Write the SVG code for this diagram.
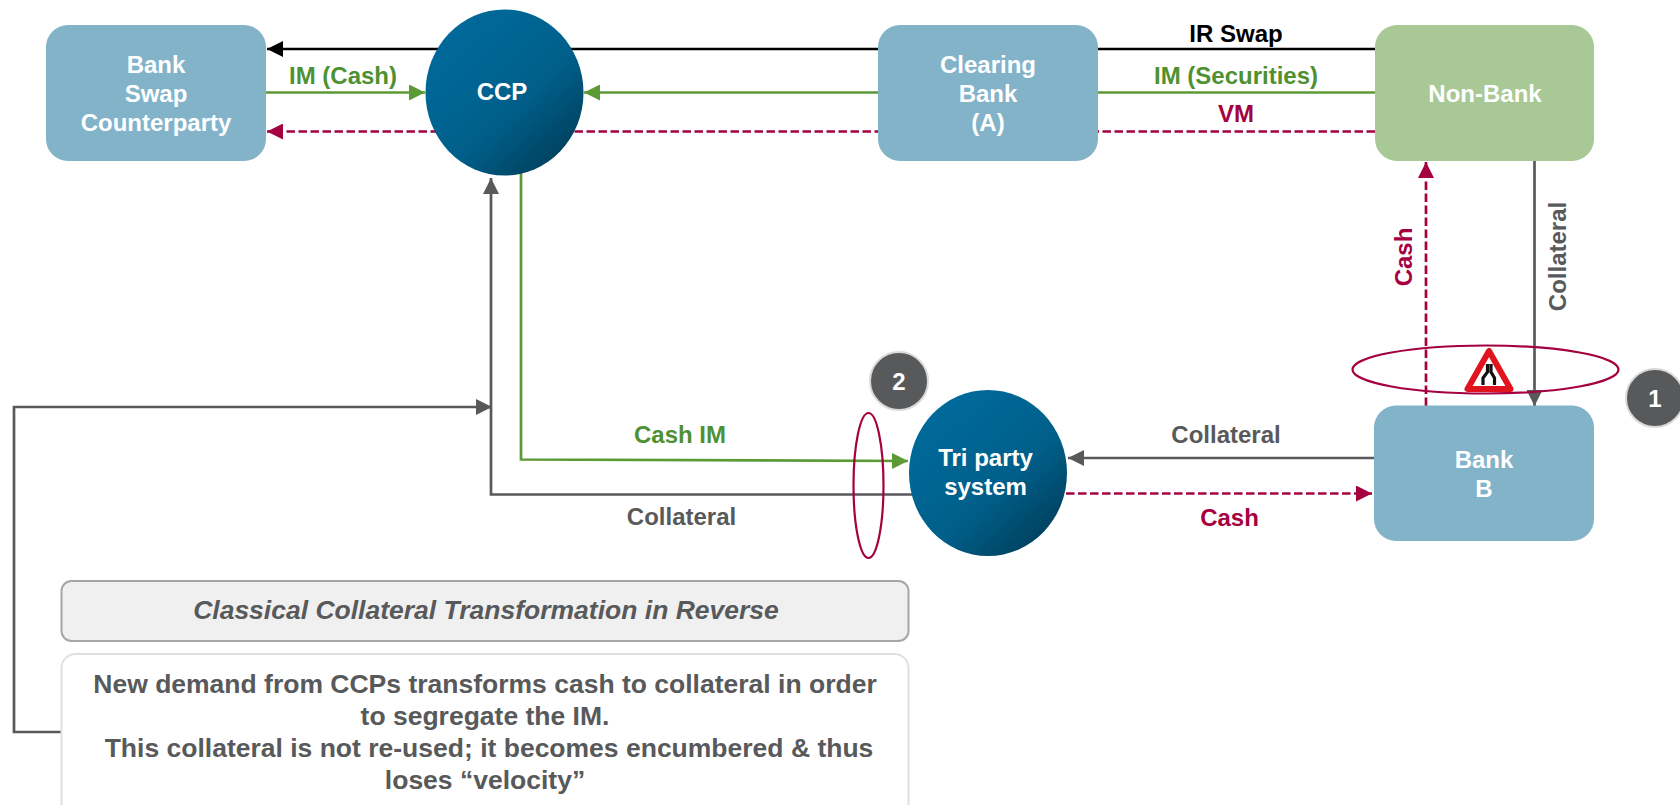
<svg xmlns="http://www.w3.org/2000/svg" width="1680" height="805" viewBox="0 0 1680 805">
<style>
text{font-family:"Liberation Sans",Arial,sans-serif;font-weight:700;font-size:24px;text-anchor:middle}
.w{fill:#fff}.g{fill:#4f9132}.r{fill:#a50040}.d{fill:#58595b}.k{fill:#000}
.box{fill:#82b3c9}
.l{fill:none;stroke-width:2.700}
.lg{stroke:#5b9a35}.lr{stroke:#a50040;stroke-dasharray:8.500 3.500}.ld{stroke:#58595b}.lk{stroke:#000}
.ring{fill:none;stroke:#a50040;stroke-width:2.200}
.badge{fill:#58595b;stroke:#d9d9d9;stroke-width:2}
.big{font-size:26.500px}
</style>
<defs>
<linearGradient id="ball" x1="0.15" y1="0.1" x2="0.85" y2="0.9"><stop offset="0" stop-color="#006a9b"/><stop offset="0.6" stop-color="#005f8a"/><stop offset="1" stop-color="#00415f"/></linearGradient>
<marker id="ak" markerUnits="userSpaceOnUse" markerWidth="18" markerHeight="16" refX="16" refY="8" orient="auto"><path d="M0 0L16 8L0 16Z" fill="#000"/></marker>
<marker id="ag" markerUnits="userSpaceOnUse" markerWidth="18" markerHeight="16" refX="16" refY="8" orient="auto"><path d="M0 0L16 8L0 16Z" fill="#5b9a35"/></marker>
<marker id="ar" markerUnits="userSpaceOnUse" markerWidth="18" markerHeight="16" refX="16" refY="8" orient="auto"><path d="M0 0L16 8L0 16Z" fill="#a50040"/></marker>
<marker id="ad" markerUnits="userSpaceOnUse" markerWidth="18" markerHeight="16" refX="16" refY="8" orient="auto"><path d="M0 0L16 8L0 16Z" fill="#58595b"/></marker>
</defs>
<g id="connectors">
<path class="l lk" d="M1375 49H267" marker-end="url(#ak)"/>
<path class="l lg" d="M266 92.500H425" marker-end="url(#ag)"/>
<path class="l lg" d="M1375 92.500H584" marker-end="url(#ag)"/>
<path class="l lr" d="M1375 131.500H267" marker-end="url(#ar)"/>
<path class="l lg" d="M521 172V459.500L908 461" marker-end="url(#ag)"/>
<path class="l ld" d="M925 494.500H491V178" marker-end="url(#ad)"/>
<path class="l ld" d="M62 732H14V407H492" marker-end="url(#ad)"/>
<path class="l ld" d="M1374 458H1068" marker-end="url(#ad)"/>
<path class="l lr" d="M1066 493.500H1372" marker-end="url(#ar)"/>
<path class="l lr" d="M1426 406V162" marker-end="url(#ar)"/>
<path class="l ld" d="M1534.500 161V406" marker-end="url(#ad)"/>
</g>
<g id="bank-swap"><rect class="box" x="46" y="25" width="220" height="136" rx="22"/><text class="w" x="156" y="73">Bank</text><text class="w" x="156" y="102">Swap</text><text class="w" x="156" y="131">Counterparty</text></g>
<g id="ccp"><ellipse cx="504.500" cy="92.500" rx="79" ry="83" fill="url(#ball)"/><text class="w" x="502" y="100">CCP</text></g>
<g id="clearing-bank"><rect class="box" x="878" y="25" width="220" height="136" rx="22"/><text class="w" x="988" y="73">Clearing</text><text class="w" x="988" y="102">Bank</text><text class="w" x="988" y="131">(A)</text></g>
<g id="non-bank"><rect x="1375" y="25" width="219" height="136" rx="22" fill="#a8c896"/><text class="w" x="1485" y="102">Non-Bank</text></g>
<g id="bank-b"><rect class="box" x="1374" y="405.500" width="220" height="135.500" rx="22"/><text class="w" x="1484" y="468">Bank</text><text class="w" x="1484" y="497">B</text></g>
<g id="tri-party"><ellipse cx="988" cy="473" rx="79" ry="83" fill="url(#ball)"/><text class="w" x="985.500" y="466">Tri party</text><text class="w" x="985.500" y="495">system</text></g>
<g id="labels">
<text class="k" x="1236" y="42">IR Swap</text>
<text class="g" x="343" y="84">IM (Cash)</text>
<text class="g" x="1236" y="84">IM (Securities)</text>
<text class="r" x="1236" y="122">VM</text>
<text class="g" x="680" y="443">Cash IM</text>
<text class="d" x="681.500" y="525">Collateral</text>
<text class="d" x="1226" y="443">Collateral</text>
<text class="r" x="1229.500" y="526">Cash</text>
<text class="r" transform="translate(1412 257) rotate(-90)">Cash</text>
<text class="d" transform="translate(1566 256.500) rotate(-90)">Collateral</text>
</g>
<g id="ring-1"><ellipse class="ring" cx="1485.500" cy="369.500" rx="133" ry="24"/></g>
<g id="ring-2"><ellipse class="ring" cx="868.500" cy="485.500" rx="15" ry="72.500"/></g>
<g id="warning-sign"><path d="M1489 351L1467.500 389H1510.500Z" fill="#fff" stroke="#e0141e" stroke-width="6" stroke-linejoin="round"/><path d="M1487.500 364V372L1483 378V385M1491 364V372L1494.500 378V385" fill="none" stroke="#111" stroke-width="3.200"/></g>
<g id="badge-1"><circle class="badge" cx="1655" cy="398" r="29"/><text class="w" x="1655" y="407">1</text></g>
<g id="badge-2"><circle class="badge" cx="899" cy="381" r="29"/><text class="w" x="899" y="390">2</text></g>
<g id="title-box"><rect x="61.500" y="581" width="847" height="60" rx="10" fill="#f0f0f0" stroke="#a6a6a6" stroke-width="2"/><text class="d big" x="486" y="619" style="font-style:italic">Classical Collateral Transformation in Reverse</text></g>
<g id="note-box"><rect x="61.500" y="654" width="847" height="170" rx="14" fill="#fff" stroke="#e0e0e0" stroke-width="2"/>
<text class="d big" x="485" y="693">New demand from CCPs transforms cash to collateral in order</text><text class="d big" x="485" y="725">to segregate the IM.</text><text class="d big" x="489" y="757">This collateral is not re-used; it becomes encumbered &amp; thus</text><text class="d big" x="485" y="789">loses “velocity”</text></g>
</svg>
